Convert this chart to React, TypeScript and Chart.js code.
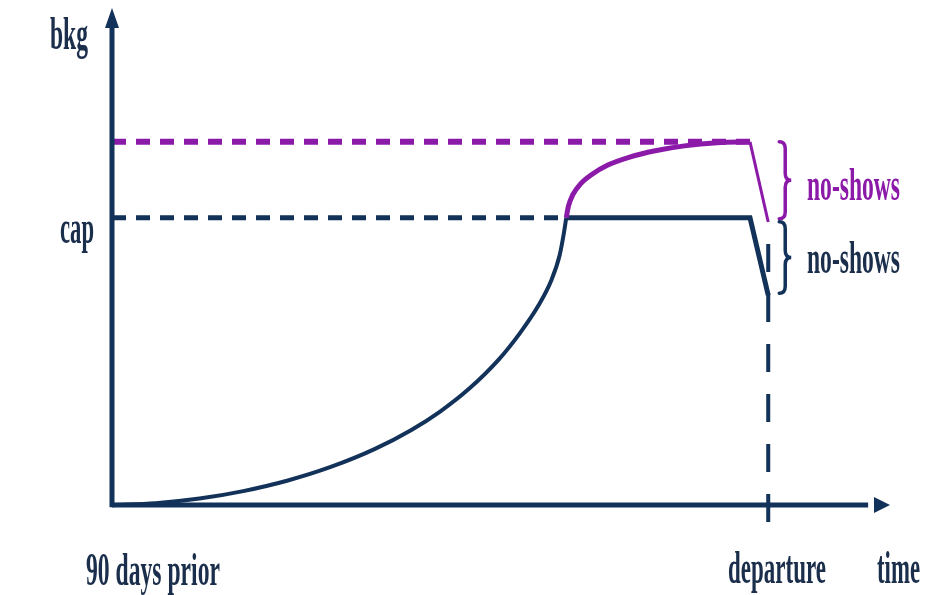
import React, { useEffect, useRef } from "react";
import { Chart, registerables } from "chart.js";

Chart.register(...registerables);

const NAVY = "#12325a";
const PURPLE = "#8b1aa9";
const TEXT_NAVY = "#1b2f4c";

// axis extents (data units)
const xAxisEnd = 106.7;
const yAxisEnd = 173;
const departureDay = 90;
const capLevel = 100;
const overbookLevel = 126.4;
const showUpLevel = 73;
const purpleDropLevel = 98.5;
const verticalBottom = -10;

// bookings curve up to capacity
const bookingDays = [0, 6, 12, 18, 24, 30, 36, 41, 45, 49, 53, 56, 58.5, 60.3, 61.4, 62.0, 62.3];
const bookingValues = [0, 0.6, 2.2, 4.8, 8.4, 13.2, 19.4, 26.0, 32.5, 40.5, 50.5, 60, 69.5, 78.5, 87, 95, 100];

// capped bookings and no-show drop
const cappedDays = [62.3, 87.5, 90];
const cappedValues = [100, 100, 73];

// overbooking curve
const overbookDays = [62.3, 62.6, 63.2, 64.2, 65.8, 68, 71, 74.5, 78.5, 83, 87.5];
const overbookValues = [100, 104, 108, 111.6, 115, 118.3, 121.1, 123.3, 125, 126.1, 126.4];
const overbookDropDays = [87.5, 90];
const overbookDropValues = [126.4, 98.5];

// text labels
const xLabels = ["90 days prior", "departure", "time"];
const yLabels = ["bkg", "cap"];
const braceLabels = ["no-shows", "no-shows"];

const FONT = '"Liberation Serif", "Times New Roman", serif';

const pts = (xs: number[], ys: number[]) => xs.map((x, i) => ({ x, y: ys[i] }));

function fitText(
  ctx: CanvasRenderingContext2D,
  text: string,
  left: number,
  right: number,
  baseline: number,
  size: number,
  color: string
) {
  ctx.save();
  ctx.font = `bold ${size}px ${FONT}`;
  const w = ctx.measureText(text).width;
  const sx = (right - left) / w;
  ctx.translate(left, baseline);
  ctx.scale(sx, 1);
  ctx.fillStyle = color;
  ctx.textAlign = "left";
  ctx.textBaseline = "alphabetic";
  ctx.fillText(text, 0, 0);
  ctx.restore();
}

function brace(ctx: CanvasRenderingContext2D, x: number, top: number, bot: number, w: number, color: string) {
  const mid = (top + bot) / 2;
  const q = 7;
  const cx = x + w / 2;
  ctx.save();
  ctx.strokeStyle = color;
  ctx.lineWidth = 3.5;
  ctx.lineCap = "round";
  ctx.beginPath();
  ctx.moveTo(x, top);
  ctx.quadraticCurveTo(cx, top, cx, top + q);
  ctx.lineTo(cx, mid - q);
  ctx.quadraticCurveTo(cx, mid, x + w, mid);
  ctx.quadraticCurveTo(cx, mid, cx, mid + q);
  ctx.lineTo(cx, bot - q);
  ctx.quadraticCurveTo(cx, bot, x, bot);
  ctx.stroke();
  ctx.restore();
}

const decorPlugin = {
  id: "decor",
  afterDatasetsDraw(chart: any) {
    const ctx: CanvasRenderingContext2D = chart.ctx;
    const xs = chart.scales.x;
    const ys = chart.scales.y;
    const x0 = xs.getPixelForValue(0);
    const y0 = ys.getPixelForValue(0);
    const xTip = xs.getPixelForValue(xAxisEnd);
    const yTip = ys.getPixelForValue(yAxisEnd);

    // arrowheads
    ctx.save();
    ctx.fillStyle = NAVY;
    ctx.beginPath();
    ctx.moveTo(xTip, y0);
    ctx.lineTo(xTip - 16, y0 - 8);
    ctx.lineTo(xTip - 16, y0 + 8);
    ctx.closePath();
    ctx.fill();
    ctx.beginPath();
    ctx.moveTo(x0, yTip);
    ctx.lineTo(x0 - 7, yTip + 20);
    ctx.lineTo(x0 + 7, yTip + 20);
    ctx.closePath();
    ctx.fill();
    ctx.restore();

    // braces
    const bx = xs.getPixelForValue(departureDay) + 11;
    brace(ctx, bx, ys.getPixelForValue(overbookLevel), ys.getPixelForValue(capLevel) + 1, 12, PURPLE);
    brace(ctx, bx, ys.getPixelForValue(capLevel) + 4, ys.getPixelForValue(showUpLevel) - 2, 12, NAVY);

    // labels
    fitText(ctx, braceLabels[0], 807, 900, 200, 46, PURPLE);
    fitText(ctx, braceLabels[1], 807, 900, 273, 46, TEXT_NAVY);
    fitText(ctx, yLabels[0], 50, 88, 49, 46, TEXT_NAVY);
    fitText(ctx, yLabels[1], 60, 94, ys.getPixelForValue(capLevel) + 25, 46, TEXT_NAVY);
    fitText(ctx, xLabels[0], 86, 220, 585, 46, TEXT_NAVY);
    fitText(ctx, xLabels[1], 728, 826, 583, 46, TEXT_NAVY);
    fitText(ctx, xLabels[2], 877, 920, 583, 46, TEXT_NAVY);
  },
};

export default function App() {
  const ref = useRef<HTMLCanvasElement | null>(null);

  useEffect(() => {
    if (!ref.current) return;
    const common = { pointRadius: 0, fill: false, clip: false as any };
    const chart = new Chart(ref.current, {
      type: "line",
      data: {
        datasets: [
          {
            ...common,
            data: pts(bookingDays, bookingValues),
            borderColor: NAVY,
            borderWidth: 4,
            cubicInterpolationMode: "monotone",
            order: 1,
          },
          {
            ...common,
            data: pts(cappedDays, cappedValues),
            borderColor: NAVY,
            borderWidth: 5,
            tension: 0,
            order: 1,
          },
          {
            ...common,
            data: pts(overbookDays, overbookValues),
            borderColor: PURPLE,
            borderWidth: 5,
            cubicInterpolationMode: "monotone",
            order: 0,
          },
          {
            ...common,
            data: pts(overbookDropDays, overbookDropValues),
            borderColor: PURPLE,
            borderWidth: 3,
            tension: 0,
            order: 0,
          },
          {
            ...common,
            data: [
              { x: 0, y: capLevel },
              { x: bookingDays[bookingDays.length - 1], y: capLevel },
            ],
            borderColor: NAVY,
            borderWidth: 5,
            borderDash: [14, 10],
            borderCapStyle: "butt",
            order: 3,
          },
          {
            ...common,
            data: [
              { x: 0, y: overbookLevel },
              { x: overbookDays[overbookDays.length - 1], y: overbookLevel },
            ],
            borderColor: PURPLE,
            borderWidth: 6,
            borderDash: [14, 10],
            borderCapStyle: "butt",
            order: 3,
          },
          {
            ...common,
            data: [
              { x: departureDay, y: purpleDropLevel },
              { x: departureDay, y: verticalBottom },
            ],
            borderColor: NAVY,
            borderWidth: 4,
            borderDash: [28, 22],
            borderDashOffset: 28,
            borderCapStyle: "butt",
            order: 3,
          },
          {
            ...common,
            data: [
              { x: 0, y: 0 },
              { x: xAxisEnd - 3, y: 0 },
            ],
            borderColor: NAVY,
            borderWidth: 5,
            order: 2,
          },
          {
            ...common,
            data: [
              { x: 0, y: -0.8 },
              { x: 0, y: yAxisEnd - 3 },
            ],
            borderColor: NAVY,
            borderWidth: 5,
            order: 2,
          },
        ] as any,
      },
      options: {
        animation: false,
        responsive: false,
        devicePixelRatio: 1,
        layout: { padding: { left: 112, right: 36, top: 8, bottom: 70 } },
        plugins: { legend: { display: false }, tooltip: { enabled: false } },
        events: [],
        scales: {
          x: { type: "linear", min: 0, max: xAxisEnd, display: false },
          y: { type: "linear", min: -7, max: yAxisEnd, display: false },
        },
      },
      plugins: [decorPlugin],
    });
    return () => chart.destroy();
  }, []);

  return (
    <div style={{ position: "fixed", left: 0, top: 0, width: 926, height: 595, background: "#ffffff" }}>
      <canvas ref={ref} width={926} height={595} style={{ display: "block", width: 926, height: 595 }} />
    </div>
  );
}
